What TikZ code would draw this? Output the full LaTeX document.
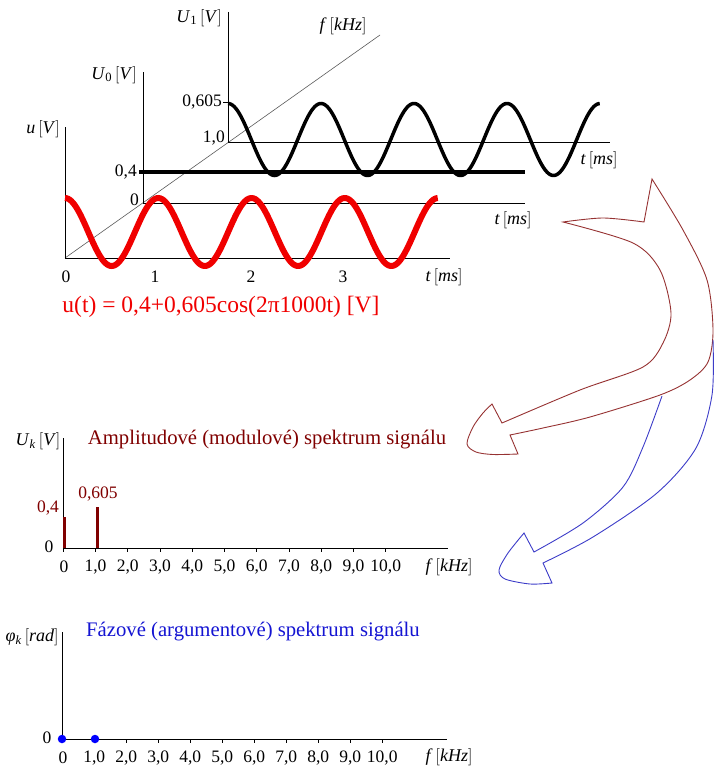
\documentclass[tikz,border=0pt]{standalone}
\usepackage{fontspec}
\setmainfont{Liberation Serif}
\definecolor{wavered}{RGB}{240,0,0}
\definecolor{specmaroon}{RGB}{128,0,0}
\definecolor{arrowbrown}{RGB}{150,50,50}
\definecolor{arrowblue}{RGB}{60,60,200}
\definecolor{phaseblue}{RGB}{20,20,210}
\definecolor{diaggray}{RGB}{90,90,90}
\newcommand{\unitbr}[1]{$\bigl[$\textit{#1}$\bigr]$}
\begin{document}
\begin{tikzpicture}[x=1pt,y=-1pt,
  ax/.style={line width=0.8pt, black},
  lbl/.style={inner sep=0pt, font=\fontsize{18}{21}\selectfont},
  num/.style={inner sep=0pt, font=\fontsize{17.5}{20}\selectfont},
  title/.style={inner sep=0pt, font=\fontsize{20.7}{24}\selectfont},
  brownarrow/.style={draw=arrowbrown, line width=0.9pt, line join=miter},
  bluearrow/.style={draw=arrowblue, line width=0.9pt, line join=miter}]
\useasboundingbox (0,0) rectangle (719,776);

% ---------- 3D time plot ----------
\coordinate (O1) at (228,142); \coordinate (O1top) at (228,12); \coordinate (O1end) at (610,142);
\coordinate (O0) at (143,203); \coordinate (O0top) at (143,72); \coordinate (O0end) at (525,203);
\coordinate (O) at (65,258);   \coordinate (Otop) at (65,127);  \coordinate (Oend) at (450,258);
\coordinate (fend) at (380,35);
\coordinate (dcA) at (139,172); \coordinate (dcB) at (525,172);
\coordinate (pkA) at (223,102); \coordinate (pkB) at (228,102);

\draw[diaggray, line width=0.6pt] (O) -- (fend);
\draw[ax] (O1top) -- (O1) -- (O1end);
\draw[ax] (O0top) -- (O0) -- (O0end);
\draw[ax] (Otop) -- (O) -- (Oend);
\draw[ax] (pkA) -- (pkB);
\draw[black, line width=4pt] (dcA) -- (dcB);
\draw[black, line width=3.5pt] plot[domain=0:4, samples=240, smooth] ({228+93*\x},{139.5-36*cos(360*\x)});
\draw[wavered, line width=6pt] plot[domain=0:4, samples=240, smooth] ({65+93.25*\x},{232-34*cos(360*\x)});

\node[lbl] (lU1) at (199,18) {\textit{U}\textsubscript{1}\,\unitbr{V}};
\node[lbl] (lf) at (343,26) {\textit{f}\,\unitbr{kHz}};
\node[lbl] (lU0) at (114,75) {\textit{U}\textsubscript{0}\,\unitbr{V}};
\node[lbl] (lu) at (43,129) {\textit{u}\,\unitbr{V}};
\node[num, anchor=east] (n605) at (222,102) {0,605};
\node[num, anchor=east] (n10) at (225,138) {1,0};
\node[num, anchor=east] (n04) at (137,172) {0,4};
\node[num, anchor=east] (n0m) at (139,200) {0};
\node[lbl] (lt1) at (599,160) {\textit{t}\,\unitbr{ms}};
\node[lbl] (lt0) at (513,220) {\textit{t}\,\unitbr{ms}};
\node[lbl] (lt) at (444,277) {\textit{t}\,\unitbr{ms}};
\node[num] (t0) at (66,277) {0};
\node[num] (t1) at (155,277) {1};
\node[num] (t2) at (251,277) {2};
\node[num] (t3) at (343,277) {3};
\node[inner sep=0pt, text=wavered, font=\fontsize{23.5}{27}\selectfont] (formula) at (221,307) {u(t) = 0,4+0,605cos(2π1000t) [V]};

% ---------- arrows ----------
\draw[brownarrow] plot[smooth] coordinates {(563,222) (603,218) (644,222)} -- (652,179)
  -- plot[smooth] coordinates {(652,179) (683,230) (707,280) (713,330) (708,362) (690,380) (660,395) (590,417) (543,428) (510,435)}
  -- (518,454)
  -- plot[smooth] coordinates {(518,454) (493,454.5) (476,452) (467,444) (473,427) (483,413) (492,404)}
  -- (502,423)
  -- plot[smooth] coordinates {(502,423) (580,390) (643,367) (663,343) (671,313) (660,270) (633,243) (563,222)} -- cycle;
\draw[bluearrow] plot[smooth] coordinates {(713,340) (712,395) (696,448) (657,493) (593,537) (543,563)}
  -- (552,583)
  -- plot[smooth] coordinates {(552,583) (530,584) (505,579) (499,570) (508,553) (524,533)}
  -- (534,552)
  -- plot[smooth] coordinates {(534,552) (583,523) (623,487) (643,447) (662,396)};

% ---------- amplitude spectrum ----------
\coordinate (S1) at (63,548); \coordinate (S1top) at (63,438); \coordinate (S1end) at (448,548);
\draw[ax] (S1top) -- (S1) -- (S1end);
\foreach \i in {0,...,10} \draw[ax] ({63.3+32.24*\i},548) -- ++(0,4);
\foreach \i in {1,...,10} \node[num] (a\i) at ({63.3+32.24*\i},567) {\i,0};
\node[num] (a0) at (64,567) {0};
\coordinate (b0a) at (64.5,548); \coordinate (b0b) at (64.5,517);
\coordinate (b1a) at (97.3,548); \coordinate (b1b) at (97.3,507);
\draw[specmaroon, line width=3pt] (b0a) -- (b0b);
\draw[specmaroon, line width=3pt] (b1a) -- (b1b);
\node[lbl] (lUk) at (38,441) {\textit{U}\textsubscript{\textit{k}}\,\unitbr{V}};
\node[title, text=specmaroon] (t1title) at (267,440) {Amplitudové (modulové) spektrum signálu};
\node[num, text=specmaroon] (v04) at (48,508) {0,4};
\node[num, text=specmaroon] (v605) at (98,494) {0,605};
\node[num] (z1) at (49,547) {0};
\node[lbl] (lf1) at (449,567) {\textit{f}\,\unitbr{kHz}};

% ---------- phase spectrum ----------
\coordinate (S2) at (62,739); \coordinate (S2top) at (62,632); \coordinate (S2end) at (447,739);
\draw[ax] (S2top) -- (S2) -- (S2end);
\foreach \i in {0,...,10} \draw[ax] ({62.3+32.0*\i},739) -- ++(0,4);
\foreach \i in {1,...,10} \node[num] (p\i) at ({62.3+32.0*\i},758) {\i,0};
\node[num] (p0) at (63,758) {0};
\node[circle, fill=blue, inner sep=0pt, minimum size=8.5pt] (d0) at (62,739) {};
\node[circle, fill=blue, inner sep=0pt, minimum size=8.5pt] (d1) at (95,739) {};
\node[lbl] (lphi) at (32,637) {\textit{φ}\textsubscript{\textit{k}}\,\unitbr{rad}};
\node[title, text=phaseblue] (t2title) at (253,632) {Fázové (argumentové) spektrum signálu};
\node[num] (z2) at (47,738) {0};
\node[lbl] (lf2) at (449,757) {\textit{f}\,\unitbr{kHz}};
\end{tikzpicture}
\end{document}
